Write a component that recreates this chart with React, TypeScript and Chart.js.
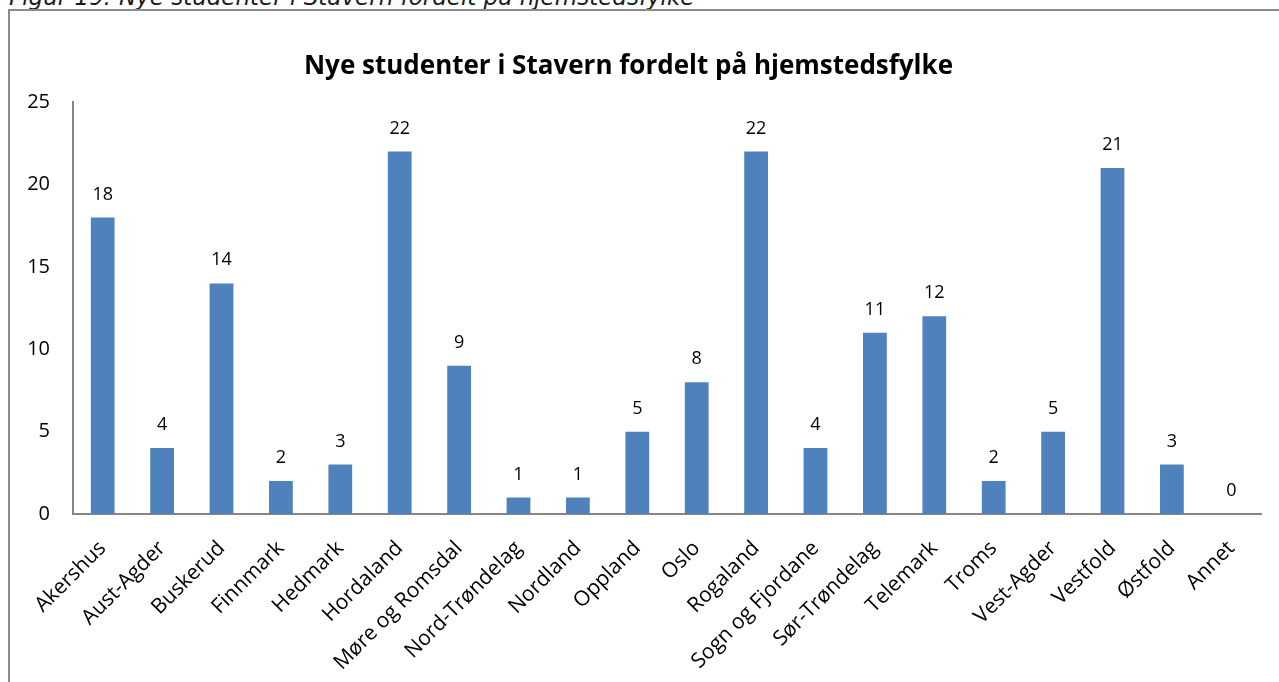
import React, { useEffect, useRef } from "react";
import { Chart, registerables } from "chart.js";

Chart.register(...registerables);

const CAPTION = "Figur 19: Nye studenter i Stavern fordelt på hjemstedsfylke";
const TITLE = "Nye studenter i Stavern fordelt på hjemstedsfylke";

const categories: string[] = [
  "Akershus",
  "Aust-Agder",
  "Buskerud",
  "Finnmark",
  "Hedmark",
  "Hordaland",
  "Møre og Romsdal",
  "Nord-Trøndelag",
  "Nordland",
  "Oppland",
  "Oslo",
  "Rogaland",
  "Sogn og Fjordane",
  "Sør-Trøndelag",
  "Telemark",
  "Troms",
  "Vest-Agder",
  "Vestfold",
  "Østfold",
  "Annet",
];

const students: number[] = [18, 4, 14, 2, 3, 22, 9, 1, 1, 5, 8, 22, 4, 11, 12, 2, 5, 21, 3, 0];

const yTicks: number[] = [0, 5, 10, 15, 20, 25];

const FONT = "'Open Sans', 'Liberation Sans', sans-serif";

const valueLabels = {
  id: "valueLabels",
  afterDatasetsDraw(chart: any) {
    const ctx = chart.ctx;
    const meta = chart.getDatasetMeta(0);
    const data = chart.data.datasets[0].data as number[];
    ctx.save();
    ctx.font = `18px ${FONT}`;
    ctx.fillStyle = "#000000";
    ctx.textAlign = "center";
    ctx.textBaseline = "alphabetic";
    meta.data.forEach((bar: any, i: number) => {
      ctx.fillText(String(data[i]), bar.x, bar.y - 18);
    });
    ctx.restore();
  },
};

export default function App() {
  const canvasRef = useRef<HTMLCanvasElement | null>(null);

  useEffect(() => {
    if (!canvasRef.current) return;
    const chart = new Chart(canvasRef.current, {
      type: "bar",
      data: {
        labels: categories,
        datasets: [
          {
            label: "Nye studenter",
            data: students,
            backgroundColor: "#4F81BD",
            borderWidth: 0,
            categoryPercentage: 1,
            barPercentage: 0.4,
          },
        ],
      },
      options: {
        responsive: false,
        animation: false,
        devicePixelRatio: 1,
        layout: { padding: { top: 51, left: 0, right: 18, bottom: 0 } },
        plugins: {
          legend: { display: false },
          tooltip: { enabled: false },
          title: {
            display: true,
            text: TITLE,
            color: "#000000",
            font: { family: FONT, size: 26, weight: "bold" },
            padding: { top: 0, bottom: 20 },
          },
        },
        scales: {
          x: {
            grid: { display: false, drawTicks: false },
            border: { display: true, color: "#868686", width: 2 },
            ticks: {
              color: "#000000",
              font: { family: FONT, size: 21 },
              minRotation: 45,
              maxRotation: 45,
              autoSkip: false,
              padding: 22,
            },
            afterFit: (scale: any) => {
              scale.height = 168;
            },
          },
          y: {
            min: 0,
            max: 25,
            afterBuildTicks: (scale: any) => {
              scale.ticks = yTicks.map((v) => ({ value: v }));
            },
            grid: { display: false, drawTicks: false },
            border: { display: true, color: "#868686", width: 2 },
            ticks: {
              color: "#000000",
              font: { family: FONT, size: 20 },
              padding: 23,
            },
            afterFit: (scale: any) => {
              scale.width = 77;
            },
          },
        },
      },
      plugins: [valueLabels],
    });
    return () => chart.destroy();
  }, []);

  return (
    <div
      style={{
        position: "fixed",
        left: 0,
        top: 0,
        width: 1279,
        height: 682,
        overflow: "hidden",
        background: "#ffffff",
      }}
    >
      <div
        style={{
          position: "absolute",
          left: 9,
          top: -14,
          font: "italic 23px 'DejaVu Sans', sans-serif",
          lineHeight: "23px",
          color: "#1a1a1a",
          whiteSpace: "nowrap",
        }}
      >
        {CAPTION}
      </div>
      <div
        style={{
          position: "absolute",
          left: 8,
          top: 9,
          width: 1300,
          height: 700,
          border: "2px solid #8c8c8c",
          boxSizing: "border-box",
        }}
      />
      <canvas
        ref={canvasRef}
        width={1283}
        height={682}
        style={{ position: "absolute", left: -4, top: 0, width: 1283, height: 682 }}
      />
    </div>
  );
}
